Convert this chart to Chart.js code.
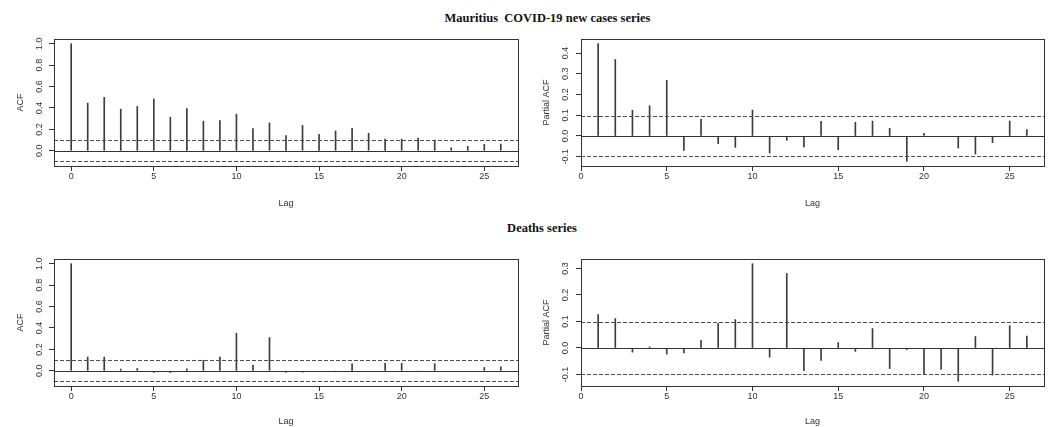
<!DOCTYPE html>
<html><head><meta charset="utf-8">
<script src="https://cdn.jsdelivr.net/npm/chart.js@4.4.0/dist/chart.umd.min.js"></script>
<style>
html,body{margin:0;padding:0;background:#fff;width:1052px;height:427px;overflow:hidden;position:relative;}
.t{position:absolute;text-align:center;font-family:"Liberation Serif","Times New Roman",serif;font-weight:bold;font-size:12.5px;color:#111;white-space:pre;line-height:14px;}
.p{position:absolute;}
canvas{display:block;}
</style></head><body>
<div class="t" style="left:0;width:1095px;top:11px">Mauritius  COVID-19 new cases series</div>
<div class="t" style="left:0;width:1084px;top:221px">Deaths series</div>
<div class="p" style="left:0;top:30px"><canvas id="c1" width="530" height="180"></canvas></div>
<div class="p" style="left:530px;top:30px"><canvas id="c2" width="522" height="180"></canvas></div>
<div class="p" style="left:0;top:250px"><canvas id="c3" width="530" height="177"></canvas></div>
<div class="p" style="left:530px;top:250px"><canvas id="c4" width="522" height="177"></canvas></div>
<script>
// ---- data ----
const lagsACF = [0,1,2,3,4,5,6,7,8,9,10,11,12,13,14,15,16,17,18,19,20,21,22,23,24,25,26];
const lagsPACF = [1,2,3,4,5,6,7,8,9,10,11,12,13,14,15,16,17,18,19,20,21,22,23,24,25,26];
const acfCases = [1.0,0.445,0.498,0.389,0.414,0.483,0.313,0.395,0.276,0.282,0.342,0.207,0.26,0.141,0.238,0.154,0.185,0.21,0.163,0.11,0.11,0.119,0.1,0.028,0.041,0.06,0.063];
const pacfCases = [0.445,0.369,0.124,0.146,0.268,-0.069,0.08,-0.037,-0.055,0.125,-0.082,-0.021,-0.053,0.071,-0.066,0.066,0.072,0.037,-0.122,0.013,-0.003,-0.058,-0.087,-0.032,0.072,0.031];
const acfDeaths = [1.0,0.128,0.128,0.016,0.022,-0.016,-0.016,0.019,0.097,0.128,0.351,0.053,0.31,-0.016,-0.013,-0.006,-0.003,0.066,-0.006,0.069,0.069,-0.003,0.066,-0.006,-0.006,0.031,0.038];
const pacfDeaths = [0.126,0.111,-0.016,0.004,-0.023,-0.019,0.029,0.093,0.107,0.318,-0.035,0.281,-0.086,-0.047,0.02,-0.013,0.073,-0.078,-0.006,-0.098,-0.081,-0.126,0.043,-0.103,0.084,0.045];
const ciBound = 0.098;
const xTicks = [0,5,10,15,20,25];
const xTickLabels = ['0','5','10','15','20','25'];
const acfTicks = [0,0.2,0.4,0.6,0.8,1.0];
const acfTickLabels = ['0.0','0.2','0.4','0.6','0.8','1.0'];
const pacfCasesTicks = [-0.1,0,0.1,0.2,0.3,0.4];
const pacfCasesTickLabels = ['-0.1','0.0','0.1','0.2','0.3','0.4'];
const pacfDeathsTicks = [-0.1,0,0.1,0.2,0.3];
const pacfDeathsTickLabels = ['-0.1','0.0','0.1','0.2','0.3'];

const FONT = '"Liberation Sans", Arial, sans-serif';
const INK = '#333';

const refLines = {
  id: 'refLines',
  afterDatasetsDraw(chart, args, opts) {
    const {ctx, chartArea: a, scales: {y}} = chart;
    ctx.save();
    ctx.lineWidth = 1;
    const y0 = Math.round(y.getPixelForValue(0)) + 0.5;
    ctx.strokeStyle = INK;
    ctx.beginPath(); ctx.moveTo(a.left, y0); ctx.lineTo(a.right, y0); ctx.stroke();
    ctx.strokeStyle = '#4a4a78';
    ctx.setLineDash([4, 2]);
    [opts.ci, -opts.ci].forEach(v => {
      const yy = Math.round(y.getPixelForValue(v)) + 0.5;
      ctx.beginPath(); ctx.moveTo(a.left, yy); ctx.lineTo(a.right, yy); ctx.stroke();
    });
    ctx.setLineDash([]);
    ctx.strokeStyle = INK;
    ctx.strokeRect(Math.round(a.left) + 0.5, Math.round(a.top) + 0.5,
                   Math.round(a.right - a.left), Math.round(a.bottom - a.top));
    ctx.restore();
  }
};

function makeChart(id, lags, vals, yTicks, yLabels, yTitle, geo) {
  const lo = Math.min(...vals, -ciBound), hi = Math.max(...vals, ciBound);
  const xlo = Math.min(...lags), xhi = Math.max(...lags);
  const ypad = 0.04 * (hi - lo), xpad = 0.04 * (xhi - xlo);
  new Chart(document.getElementById(id), {
    type: 'bar',
    data: { datasets: [{
      data: lags.map((l, i) => ({x: l, y: vals[i]})),
      backgroundColor: '#3c3c3c', barThickness: 1, borderWidth: 0
    }]},
    options: {
      responsive: false, animation: false, events: [],
      layout: { padding: { left: 0, top: geo.pt, right: geo.pr, bottom: 0 } },
      plugins: { legend: {display: false}, tooltip: {enabled: false}, refLines: {ci: ciBound} },
      scales: {
        x: {
          type: 'linear', offset: false, min: xlo - xpad, max: xhi + xpad,
          afterBuildTicks: s => { s.ticks = xTicks.map(v => ({value: v})); },
          afterFit: s => { s.height = geo.xh; },
          grid: { display: true, offset: false, drawOnChartArea: false, drawTicks: true, tickLength: 5, color: INK },
          border: { display: true, color: INK },
          ticks: { font: {family: FONT, size: 9}, color: INK, padding: 0, maxRotation: 0, autoSkip: false,
                   callback: (v, i) => xTickLabels[i] },
          title: { display: true, text: 'Lag', font: {family: FONT, size: 9}, color: INK,
                   padding: {top: 0, bottom: geo.tb} }
        },
        y: {
          type: 'linear', min: lo - ypad, max: hi + ypad,
          afterBuildTicks: s => { s.ticks = yTicks.map(v => ({value: v})); },
          afterFit: s => { s.width = geo.yw; },
          grid: { display: true, drawOnChartArea: false, drawTicks: true, tickLength: 5, color: INK },
          border: { display: true, color: INK },
          ticks: { font: {family: FONT, size: 9}, color: INK, padding: 3, minRotation: 90, maxRotation: 90,
                   crossAlign: 'center', autoSkip: false, callback: (v, i) => yLabels[i] },
          title: { display: true, text: yTitle, font: {family: FONT, size: 9}, color: INK,
                   padding: {top: geo.yt, bottom: 0} }
        }
      }
    },
    plugins: [refLines]
  });
}

makeChart('c1', lagsACF, acfCases, acfTicks, acfTickLabels, 'ACF', {pt: 9, pr: 12, xh: 44, tb: 0.8, yw: 54, yt: 15.3});
makeChart('c2', lagsPACF, pacfCases, pacfCasesTicks, pacfCasesTickLabels, 'Partial ACF', {pt: 9, pr: 8, xh: 44, tb: 0.8, yw: 51, yt: 11.6});
makeChart('c3', lagsACF, acfDeaths, acfTicks, acfTickLabels, 'ACF', {pt: 9, pr: 12, xh: 41, tb: 0.2, yw: 54, yt: 15.3});
makeChart('c4', lagsPACF, pacfDeaths, pacfDeathsTicks, pacfDeathsTickLabels, 'Partial ACF', {pt: 9, pr: 8, xh: 41, tb: 0.2, yw: 51, yt: 11.6});
</script>
</body></html>
